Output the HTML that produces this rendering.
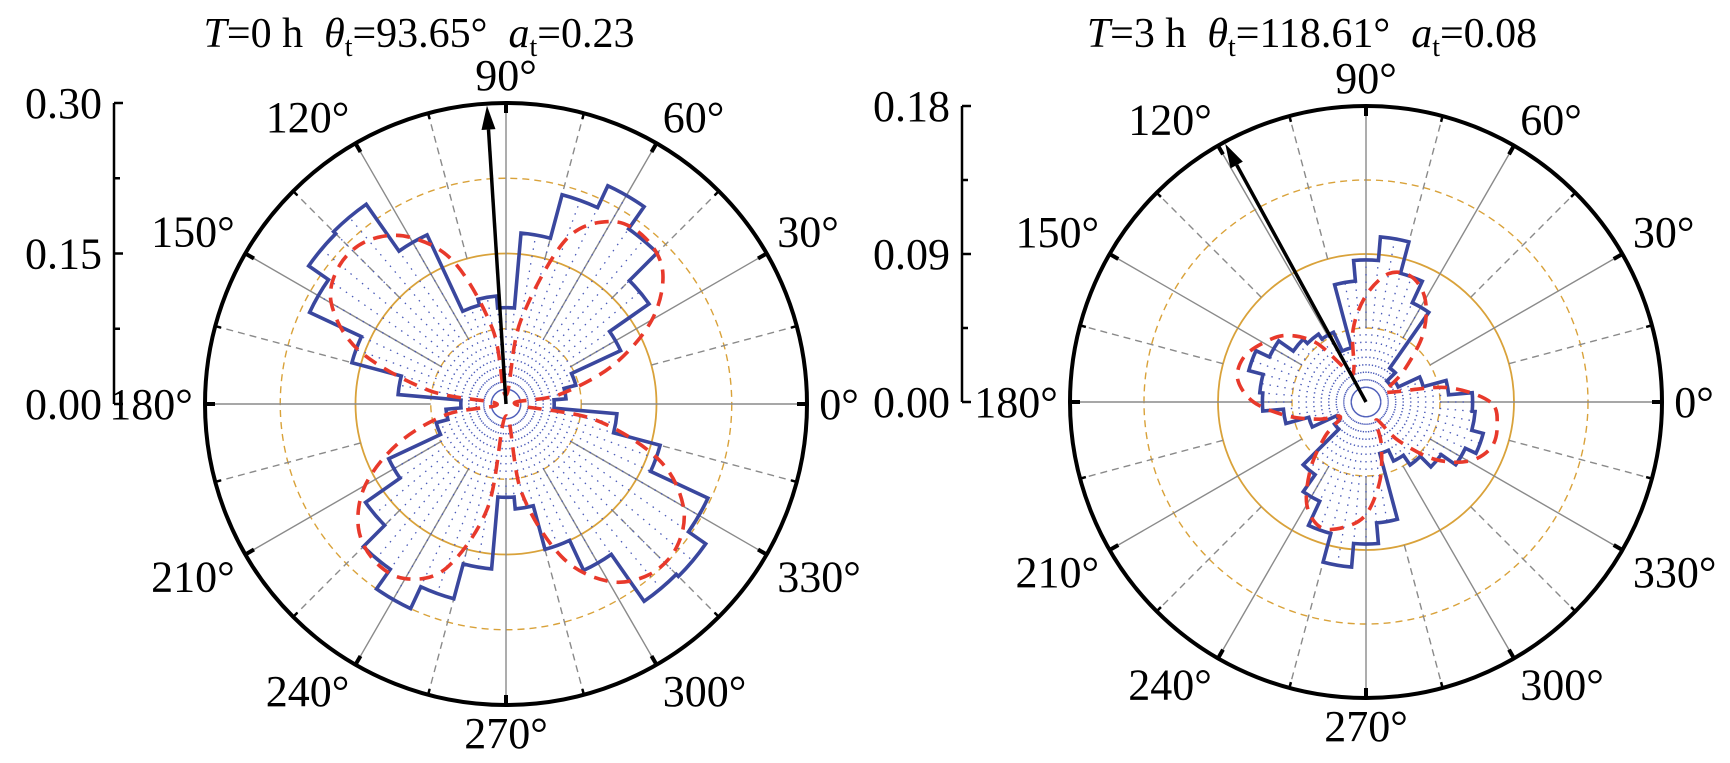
<!DOCTYPE html>
<html><head><meta charset="utf-8">
<style>
html,body{margin:0;padding:0;background:#fff;}
svg{display:block;font-family:"Liberation Serif",serif;}
</style></head>
<body>
<svg id="fig" width="1730" height="763" viewBox="0 0 1730 763" xmlns="http://www.w3.org/2000/svg">
<text x="419" y="47" font-size="42" text-anchor="middle" xml:space="preserve"><tspan font-style="italic">T</tspan>=0 h  <tspan font-style="italic">θ</tspan><tspan font-size="28" dy="9">t</tspan><tspan dy="-9">=93.65°  </tspan><tspan font-style="italic">a</tspan><tspan font-size="28" dy="9">t</tspan><tspan dy="-9">=0.23</tspan></text>
<text x="1312" y="47" font-size="42" text-anchor="middle" xml:space="preserve"><tspan font-style="italic">T</tspan>=3 h  <tspan font-style="italic">θ</tspan><tspan font-size="28" dy="9">t</tspan><tspan dy="-9">=118.61°  </tspan><tspan font-style="italic">a</tspan><tspan font-size="28" dy="9">t</tspan><tspan dy="-9">=0.08</tspan></text>
<g id="left"></g>
<g id="right"></g>
</svg>
<script>
// bins centered at 0,10,...,350 degrees
const binCenters = Array.from({length:36},(_,i)=>i*10);
const leftMax = 0.30;
const leftTicks = ["0.00","0.15","0.30"];
const leftObserved = [0.16,0.20,0.24,0.42,0.58,0.71,0.80,0.72,0.57,0.32,0.36,0.34,0.62,0.81,0.80,0.72,0.53,0.36,0.15,0.20,0.24,0.43,0.57,0.67,0.75,0.67,0.55,0.31,0.35,0.50,0.61,0.80,0.81,0.74,0.53,0.37].map(v=>v*0.30);
const leftFit = [0.03,0.18,0.38,0.56,0.68,0.72,0.70,0.58,0.28,0.03,0.25,0.50,0.64,0.71,0.72,0.67,0.52,0.26,0.03,0.20,0.38,0.54,0.64,0.68,0.67,0.58,0.35,0.04,0.30,0.54,0.68,0.74,0.74,0.68,0.54,0.30].map(v=>v*0.30);
const leftArrowAngle = 93.65;
const rightMax = 0.18;
const rightTicks = ["0.00","0.09","0.18"];
const rightObserved = [0.36,0.28,0.20,0.12,0.10,0.14,0.37,0.45,0.56,0.48,0.41,0.19,0.26,0.28,0.30,0.36,0.41,0.36,0.35,0.28,0.20,0.11,0.13,0.30,0.37,0.46,0.56,0.48,0.41,0.18,0.22,0.26,0.31,0.37,0.41,0.37].map(v=>v*0.18);
const rightFit = [0.42,0.28,0.10,0.08,0.17,0.30,0.40,0.45,0.44,0.36,0.25,0.12,0.12,0.26,0.35,0.40,0.44,0.44,0.38,0.27,0.17,0.10,0.18,0.29,0.40,0.45,0.43,0.38,0.27,0.15,0.07,0.17,0.30,0.40,0.45,0.45].map(v=>v*0.18);
const rightArrowAngle = 118.61;
const angleLabels = [0,30,60,90,120,150,180,210,240,270,300,330];

const NS="http://www.w3.org/2000/svg";
function mk(tag,attrs,parent){const e=document.createElementNS(NS,tag);for(const k in attrs)e.setAttribute(k,attrs[k]);parent.appendChild(e);return e;}

function drawChart(g,cx,cy,R,axisX,maxV,ticks,obs,fit,arrowDeg){
  const rs=v=>v/maxV*R;
  const P=(deg,r)=>{const a=deg*Math.PI/180;return [cx+r*Math.cos(a),cy-r*Math.sin(a)];};
  [[0.25,true],[0.5,false],[0.75,true]].forEach(([f,d])=>{
    const c=mk('circle',{cx,cy,r:R*f,fill:'none',stroke:'#d9a23a','stroke-width':d?1.4:1.8},g);
    if(d)c.setAttribute('stroke-dasharray','7 5');
    
    
  });
  for(let a=0;a<360;a+=15){
    const major=a%30===0;
    const [x1,y1]=P(a,R*(major?0.25:0.5)),[x2,y2]=P(a,R);
    const l=mk('line',{x1,y1,x2,y2,stroke:'#8a8a8a','stroke-width':1.4},g);
    if(!major)l.setAttribute('stroke-dasharray','7 5');
    
    
  }
  const n=obs.length;
  for(let k=0;k<n*2;k++){
    const deg=k*5;let len;
    if(k%2===0)len=obs[k/2];else len=Math.min(obs[(k-1)/2],obs[((k+1)/2)%n]);
    const [x1,y1]=P(deg,14),[x2,y2]=P(deg,rs(len));
    const l=mk('line',{x1,y1,x2,y2,stroke:'#4a5ab8','stroke-width':1.3,'stroke-dasharray':'1.5 6'},g);
    
    
  }
  let d='';
  obs.forEach((v,i)=>{
    const c=binCenters[i],r=rs(v);
    const [x1,y1]=P(c-5,r),[x2,y2]=P(c+5,r);
    d+=(i===0?'M':'L')+x1.toFixed(1)+','+y1.toFixed(1)+' A'+r.toFixed(1)+','+r.toFixed(1)+' 0 0 0 '+x2.toFixed(1)+','+y2.toFixed(1)+' ';
  });
  d+='Z';
  const hist=mk('path',{d,fill:'none',stroke:'#3a479e','stroke-width':3.6,'stroke-linejoin':'miter'},g);
  
  
  const pts=fit.map((v,i)=>P(binCenters[i],rs(v)));
  let fd='M'+pts[0][0].toFixed(1)+','+pts[0][1].toFixed(1);
  for(let i=0;i<n;i++){
    const p0=pts[(i-1+n)%n],p1=pts[i],p2=pts[(i+1)%n],p3=pts[(i+2)%n];
    const c1=[p1[0]+(p2[0]-p0[0])/6,p1[1]+(p2[1]-p0[1])/6];
    const c2=[p2[0]-(p3[0]-p1[0])/6,p2[1]-(p3[1]-p1[1])/6];
    fd+=' C'+c1.map(x=>x.toFixed(1)).join(',')+' '+c2.map(x=>x.toFixed(1)).join(',')+' '+p2.map(x=>x.toFixed(1)).join(',');
  }
  const fitp=mk('path',{d:fd,fill:'none',stroke:'#e8392b','stroke-width':3.6,'stroke-dasharray':'14 9'},g);
  
  
  const oc=mk('circle',{cx,cy,r:R,fill:'none',stroke:'#000','stroke-width':4},g);
  
  
  for(let a=0;a<360;a+=15){
    const major=a%30===0;
    const [x1,y1]=P(a,R),[x2,y2]=P(a,R-(major?10:6));
    const t=mk('line',{x1,y1,x2,y2,stroke:'#000','stroke-width':major?4:2.5},g);
    
    
  }
  const [ax,ay]=P(arrowDeg,R-2),[bx,by]=P(arrowDeg,R-26);
  const al=mk('line',{x1:cx,y1:cy,x2:bx,y2:by,stroke:'#000','stroke-width':3.5},g);
  
  
  const perp=(arrowDeg+90)*Math.PI/180,w=7;
  const hx1=bx+w*Math.cos(perp),hy1=by-w*Math.sin(perp),hx2=bx-w*Math.cos(perp),hy2=by+w*Math.sin(perp);
  const ah=mk('polygon',{points:`${ax},${ay} ${hx1},${hy1} ${hx2},${hy2}`,fill:'#000'},g);
  
  
  angleLabels.forEach(a=>{
    const txt=a+'°';
    const rad=a*Math.PI/180;
    const c=Math.cos(rad),s=Math.sin(rad);
    const sx=Math.abs(c)<0.01?0:Math.sign(c),sy=Math.abs(s)<0.01?0:Math.sign(s);
    const wt=(txt.length-1)*22+18,ht=32;
    const [bx0,by0]=P(a,R+12);
    const x=bx0+sx*wt/2,y=by0-sy*ht/2;
    const t=mk('text',{x,y:y+15,'font-size':44,'text-anchor':'middle'},g);
    t.textContent=txt;
    
    
  });
  const ax1=mk('line',{x1:axisX,y1:cy,x2:axisX,y2:cy-R,stroke:'#000','stroke-width':2.5},g);
  
  
  for(let k=0;k<=4;k++){
    const y=cy-R*k/4;
    const t=mk('line',{x1:axisX,y1:y,x2:axisX+(k%2===0?9:6),y2:y,stroke:'#000','stroke-width':2.5},g);
    
    
  }
  ticks.forEach((lab,k)=>{
    const t=mk('text',{x:axisX-12,y:cy-R*k/2+15,'font-size':44,'text-anchor':'end'},g);
    t.textContent=lab;
    
    
  });
}
drawChart(document.getElementById('left'),506,404,301,114,leftMax,leftTicks,leftObserved,leftFit,leftArrowAngle);
drawChart(document.getElementById('right'),1366,402,296,962,rightMax,rightTicks,rightObserved,rightFit,rightArrowAngle);
</script>
</body></html>
